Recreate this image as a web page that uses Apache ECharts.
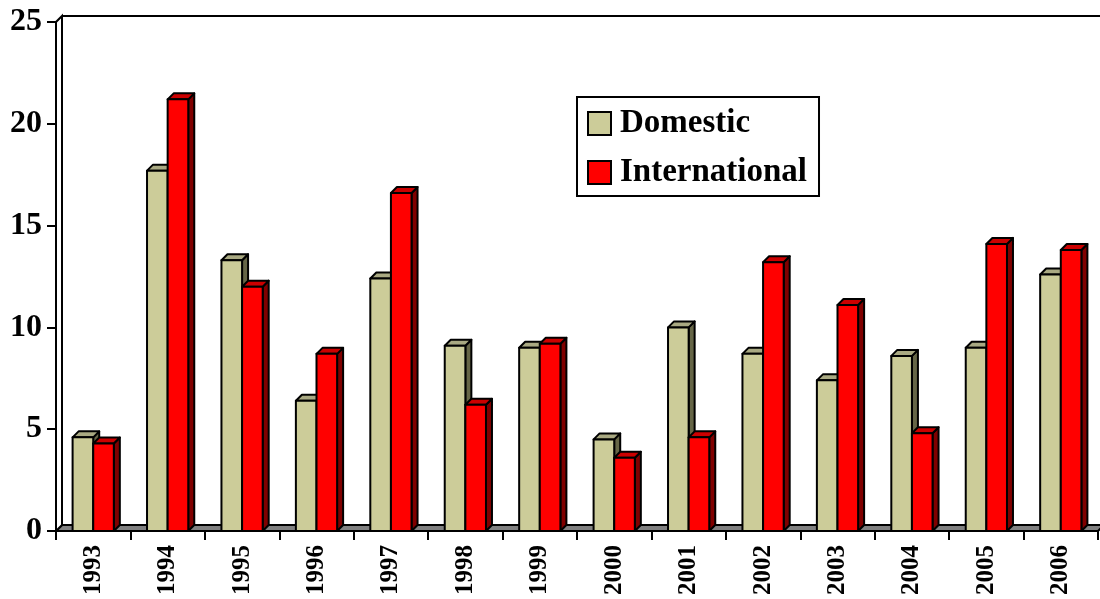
<!DOCTYPE html>
<html>
<head>
<meta charset="utf-8">
<script src="https://cdn.jsdelivr.net/npm/echarts@6/dist/echarts.min.js"></script>
<style>html,body{margin:0;padding:0;background:#fff}#c{width:1100px;height:599px}</style>
</head>
<body>
<div id="c"></div>
<script>
const years = ['1993','1994','1995','1996','1997','1998','1999','2000','2001','2002','2003','2004','2005','2006'];
const domestic = [4.6, 17.7, 13.3, 6.4, 12.4, 9.1, 9.0, 4.5, 10.0, 8.7, 7.4, 8.6, 9.0, 12.6];
const international = [4.3, 21.2, 12.0, 8.7, 16.6, 6.2, 9.2, 3.6, 4.6, 13.2, 11.1, 4.8, 14.1, 13.8];
const yTicks = [0, 5, 10, 15, 20, 25];

const FONT = '"Liberation Serif", "Times New Roman", serif';
const DX = 6, DY = -6;

function barRenderer(side, front, top, sideCol) {
  return function (params, api) {
    const i = api.value(0), v = api.value(1);
    const p = api.coord([i, v]);
    const p0 = api.coord([i, 0]);
    const band = api.size([1, 0])[0];
    const bw = band * 0.277;
    const x0 = side < 0 ? p[0] - bw : p[0];
    const x1 = x0 + bw;
    const yt = p[1], yb = p0[1];
    const st = {stroke: '#000', lineWidth: 2, lineJoin: 'round'};
    return {
      type: 'group',
      children: [
        {type: 'polygon', shape: {points: [[x1, yt], [x1 + DX, yt + DY], [x1 + DX, yb + DY], [x1, yb]]}, style: Object.assign({fill: sideCol}, st)},
        {type: 'polygon', shape: {points: [[x0, yt], [x0 + DX, yt + DY], [x1 + DX, yt + DY], [x1, yt]]}, style: Object.assign({fill: top}, st)},
        {type: 'rect', shape: {x: x0, y: yt, width: bw, height: yb - yt}, style: Object.assign({fill: front}, st)}
      ]
    };
  };
}

function frameRenderer(params, api) {
  const cs = params.coordSys;
  const L = cs.x, T = cs.y, R = cs.x + cs.width, B = cs.y + cs.height;
  const st = {stroke: '#000', lineWidth: 2};
  return {
    type: 'group',
    children: [
      {type: 'polygon', shape: {points: [[L, B], [L + DX, B + DY], [R + DX, B + DY], [R, B]]}, style: Object.assign({fill: '#808080'}, st)},
      {type: 'polygon', shape: {points: [[L, B], [L, T], [L + DX, T + DY], [L + DX, B + DY]]}, style: Object.assign({fill: '#fff'}, st)},
      {type: 'line', shape: {x1: L + DX, y1: T + DY, x2: R + DX + 10, y2: T + DY}, style: {stroke: '#000', lineWidth: 2}}
    ]
  };
}

const chart = echarts.init(document.getElementById('c'), null, {renderer: 'canvas'});
chart.setOption({
  animation: false,
  backgroundColor: '#fff',
  grid: {left: 56, right: 2, top: 22, bottom: 68},
  legend: {
    orient: 'vertical',
    left: 577, top: 97,
    data: ['Domestic', 'International'],
    backgroundColor: '#fff',
    borderColor: '#000', borderWidth: 2,
    padding: [10, 12, 7, 10],
    itemWidth: 23, itemHeight: 23, itemGap: 16,
    icon: 'rect',
    itemStyle: {borderColor: '#000', borderWidth: 2},
    textStyle: {fontFamily: FONT, fontWeight: 'bold', fontSize: 33, color: '#000', lineHeight: 33, padding: [0, 0, 0, 4]}
  },
  xAxis: {
    type: 'category',
    data: years,
    axisLine: {show: true, lineStyle: {color: '#000', width: 2}},
    axisTick: {show: true, length: 9, interval: 0, lineStyle: {color: '#000', width: 2}},
    axisLabel: {rotate: 90, margin: 14, fontFamily: FONT, fontWeight: 'bold', fontSize: 25, color: '#000', interval: 0},
    splitLine: {show: false}
  },
  yAxis: {
    type: 'value',
    min: yTicks[0], max: yTicks[yTicks.length - 1], interval: 5,
    axisLine: {show: true, lineStyle: {color: '#000', width: 2}},
    axisTick: {show: true, length: 9, lineStyle: {color: '#000', width: 2}},
    axisLabel: {margin: 14, fontFamily: FONT, fontWeight: 'bold', fontSize: 32, color: '#000'},
    splitLine: {show: false}
  },
  series: [
    {
      name: 'frame', type: 'custom', z: 1, silent: true,
      renderItem: frameRenderer,
      data: [[0, 0]],
      encode: {x: 0, y: 1}
    },
    {
      name: 'Domestic', type: 'custom', z: 2,
      itemStyle: {color: '#CCCC99'},
      renderItem: barRenderer(-1, '#CCCC99', '#A9A982', '#666647'),
      data: domestic.map((v, i) => [i, v]),
      encode: {x: 0, y: 1}
    },
    {
      name: 'International', type: 'custom', z: 3,
      itemStyle: {color: '#FF0000'},
      renderItem: barRenderer(1, '#FF0000', '#CC0000', '#800000'),
      data: international.map((v, i) => [i, v]),
      encode: {x: 0, y: 1}
    }
  ]
});
</script>
</body>
</html>
